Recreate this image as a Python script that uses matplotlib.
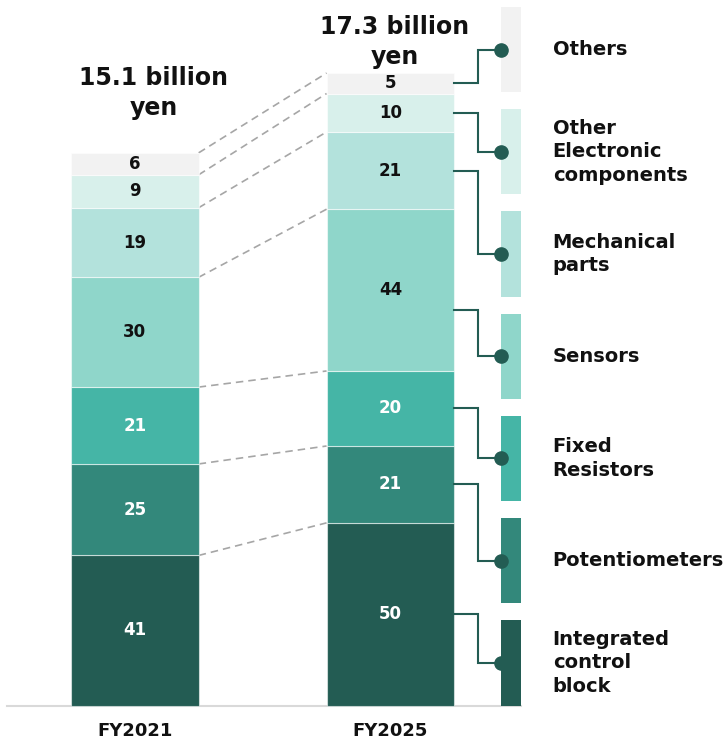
import numpy as np
import matplotlib.pyplot as plt
from matplotlib.patches import Rectangle

# data (billions of yen x10, stacked bottom -> top)
years = ['FY2021', 'FY2025']
totals = ['15.1 billion\nyen', '17.3 billion\nyen']
categories = ['Integrated\ncontrol\nblock', 'Potentiometers', 'Fixed\nResistors',
              'Sensors', 'Mechanical\nparts', 'Other\nElectronic\ncomponents', 'Others']
fy2021 = [41, 25, 21, 30, 19, 9, 6]
fy2025 = [49.9, 21.0, 20.5, 44.2, 21.1, 10.5, 5.6]
labels_2021 = ['41', '25', '21', '30', '19', '9', '6']
labels_2025 = ['50', '21', '20', '44', '21', '10', '5']

colors = ['#235c53', '#33887b', '#45b5a6', '#8fd6ca', '#b3e2dc', '#d8f0eb', '#f2f2f2']
text_colors = ['white', 'white', 'white', '#111111', '#111111', '#111111', '#111111']
dark = '#235c53'

W, H = 726, 742
fig = plt.figure(figsize=(W / 100, H / 100), dpi=100)
ax = fig.add_axes([0, 0, 1, 1])
ax.set_axis_off()

# pixel scale of the axes
px_x = 255.8   # px per x unit
px_y = 3.66    # px per value unit
x0 = 134.7     # px of first bar centre
y0 = 36.5      # px of baseline from bottom
ax.set_xlim(-x0 / px_x, (W - x0) / px_x)
ax.set_ylim(-y0 / px_y, (H - y0) / px_y)


def dx(p):
    return p / px_x


def dy(p):
    return p / px_y


bar_w = 0.5
xs = [0, 1]
all_vals = [fy2021, fy2025]
all_labels = [labels_2021, labels_2025]

# baseline
ax.plot([dx(7 - x0), 1.25 + dx(66.6)], [0, 0], color='#d9d9d9', lw=1.5, zorder=1)

for xi, vals, labs in zip(xs, all_vals, all_labels):
    vals = np.array(vals, dtype=float)
    bottoms = np.concatenate([[0], np.cumsum(vals)[:-1]])
    ax.bar(xi, vals, bottom=bottoms, width=bar_w, color=colors,
           edgecolor=(1, 1, 1, 0.55), linewidth=0.8, zorder=2)
    for b, v, lab, tc in zip(bottoms, vals, labs, text_colors):
        ax.text(xi, b + v / 2, lab, ha='center', va='center', fontsize=12,
                fontweight='bold', color=tc, zorder=3)

# dashed links between bars
c21 = np.cumsum(fy2021)
c25 = np.cumsum(fy2025)
for a, b in zip(c21, c25):
    ax.plot([bar_w / 2, 1 - bar_w / 2], [a, b], color='#a6a6a6', lw=1.2,
            ls=(0, (4.5, 3)), zorder=1)

# totals above bars
title_offsets = [(13.7, 23.8), (3.2, 3.0)]
for xi, c, t, off in zip(xs, [c21, c25], totals, title_offsets):
    ax.annotate(t, xy=(xi, c[-1]), xytext=off, textcoords='offset points',
                ha='center', va='bottom', fontsize=17, fontweight='bold',
                linespacing=1.3, color='#111111')

# year labels
for xi, yr in zip(xs, years):
    ax.annotate(yr, xy=(xi, 0), xytext=(0, -26 * 0.72), textcoords='offset points',
                ha='center', va='center', fontsize=13, fontweight='bold', color='#111111')

# legend swatches with elbow connectors
top = dy(705.5 - 7)
gap = dy(17)
sh = (top - 6 * gap) / 7
sw_left = 1 + bar_w / 2 + dx(46.6)
sw_w = dx(20)
elbow = 1 + bar_w / 2 + dx(23.3)
anchor_frac = [0.5, 0.5, 0.5, 0.38, 0.5, 0.5, 0.5]
b25 = np.concatenate([[0], c25[:-1]])

for i, cat in enumerate(categories):
    yb = i * (sh + gap)
    yc = yb + sh / 2
    ax.add_patch(Rectangle((sw_left, yb), sw_w, sh, color=colors[i], lw=0, zorder=2))
    anchor = b25[i] + fy2025[i] * anchor_frac[i]
    ax.plot([1 + bar_w / 2, elbow, elbow, sw_left], [anchor, anchor, yc, yc],
            color=dark, lw=1.5, solid_joinstyle='miter', zorder=3)
    ax.plot(sw_left, yc, 'o', ms=9.5, color=dark, zorder=4)
    ax.text(sw_left + sw_w + dx(31.7), yc, cat, ha='left', va='center',
            fontsize=14, fontweight='bold', linespacing=1.3, color='#111111')

fig.savefig('out.png', dpi=100)
